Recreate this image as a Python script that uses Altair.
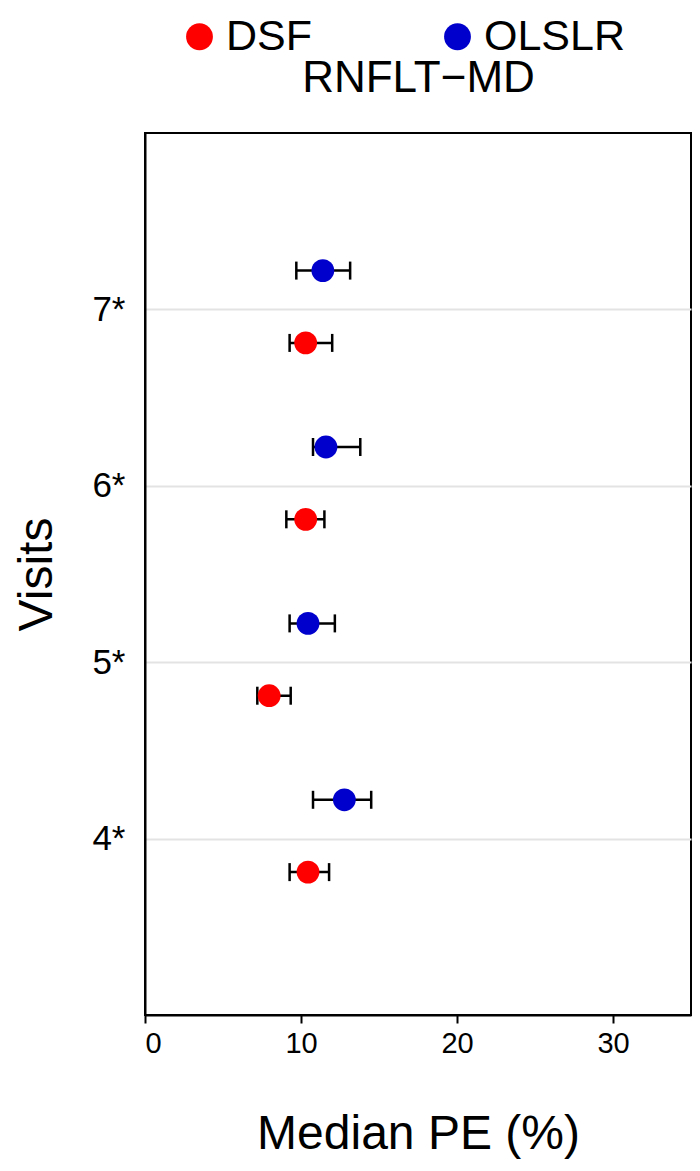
import altair as alt
import pandas as pd

visits = [4, 5, 6, 7]
methods = ["DSF", "OLSLR"]
dsf_median = [10.45, 7.96, 10.3, 10.3]
dsf_low = [9.27, 7.2, 9.06, 9.27]
dsf_high = [11.8, 9.34, 11.5, 12.0]
olslr_median = [12.78, 10.45, 11.6, 11.4]
olslr_low = [10.77, 9.27, 10.77, 9.7]
olslr_high = [14.5, 12.17, 13.8, 13.15]
colors = ["#ff0000", "#0000cc"]
x_ticks = [0, 10, 20, 30]
panel_title = "RNFLT\u2212MD"

rows = []
for m, med, lo, hi in [("DSF", dsf_median, dsf_low, dsf_high),
                       ("OLSLR", olslr_median, olslr_low, olslr_high)]:
    for v, a, b, c in zip(visits, med, lo, hi):
        rows.append(dict(visit=v, method=m, median=a, low=b, high=c))
df = pd.DataFrame(rows)

FONT = "Liberation Sans"

base = alt.Chart(df).transform_calculate(
    pos="datum.method == 'DSF' ? datum.visit - 0.19 : datum.visit + 0.22"
)

y_axis = alt.Axis(values=visits, labelExpr="datum.value + '*'", title="Visits",
                  grid=True, ticks=False, tickSize=0, labelPadding=20,
                  labelFontSize=35, titleFontSize=48, titlePadding=30,
                  titleFontWeight="normal", domainColor="black", domainWidth=2,
                  gridColor="#e3e3e3", gridWidth=2, labelColor="black",
                  titleColor="black", labelFont=FONT, titleFont=FONT)
y_enc = alt.Y("pos:Q", scale=alt.Scale(domain=[3, 8], nice=False, zero=False),
              axis=y_axis)
x_scale = alt.Scale(domain=[0, 35], nice=False)

bottom_axis = alt.Axis(values=x_ticks, grid=False, title="Median PE (%)",
                       tickSize=8, tickWidth=2, tickColor="black",
                       domainColor="black", domainWidth=2,
                       labelFontSize=29, labelPadding=6,
                       titleFontSize=48, titlePadding=52,
                       titleFontWeight="normal", labelColor="black",
                       titleColor="black", labelFont=FONT, titleFont=FONT)
top_axis = alt.Axis(orient="top", labels=False, ticks=False, domain=False,
                    grid=False, title=panel_title, titleFontSize=44,
                    titleFont=FONT, titleFontWeight="normal",
                    titleColor="black", titlePadding=33)

rule = base.mark_rule(color="black", strokeWidth=2.5).encode(
    x=alt.X("low:Q", scale=x_scale, axis=bottom_axis), x2="high:Q", y=y_enc)
cap_lo = base.mark_tick(orient="vertical", size=18, thickness=2.5,
                        color="black", opacity=1).encode(
    x=alt.X("low:Q", scale=x_scale, axis=None), y=y_enc)
cap_hi = base.mark_tick(orient="vertical", size=18, thickness=2.5,
                        color="black", opacity=1).encode(
    x=alt.X("high:Q", scale=x_scale, axis=None), y=y_enc)
points = base.mark_circle(size=520, opacity=1).encode(
    x=alt.X("median:Q", scale=x_scale, axis=top_axis), y=y_enc,
    color=alt.Color("method:N", scale=alt.Scale(domain=methods, range=colors),
                    legend=alt.Legend(title=None, orient="none", legendX=33,
                                      legendY=-118, direction="horizontal",
                                      symbolSize=720, symbolType="circle",
                                      labelFontSize=43, labelFont=FONT,
                                      labelColor="black", columnPadding=124,
                                      labelOffset=5, padding=0,
                                      symbolStrokeWidth=0, symbolOpacity=1)))

chart = alt.layer(rule, cap_lo, cap_hi, points).resolve_axis(
    x="independent"
).properties(
    width=546, height=882,
    padding={"left": 137, "top": 125, "right": 1, "bottom": 145},
    autosize="none",
).configure_view(stroke="black", strokeWidth=2)

chart.save("out.html", embed_options={"renderer": "svg", "actions": False})
